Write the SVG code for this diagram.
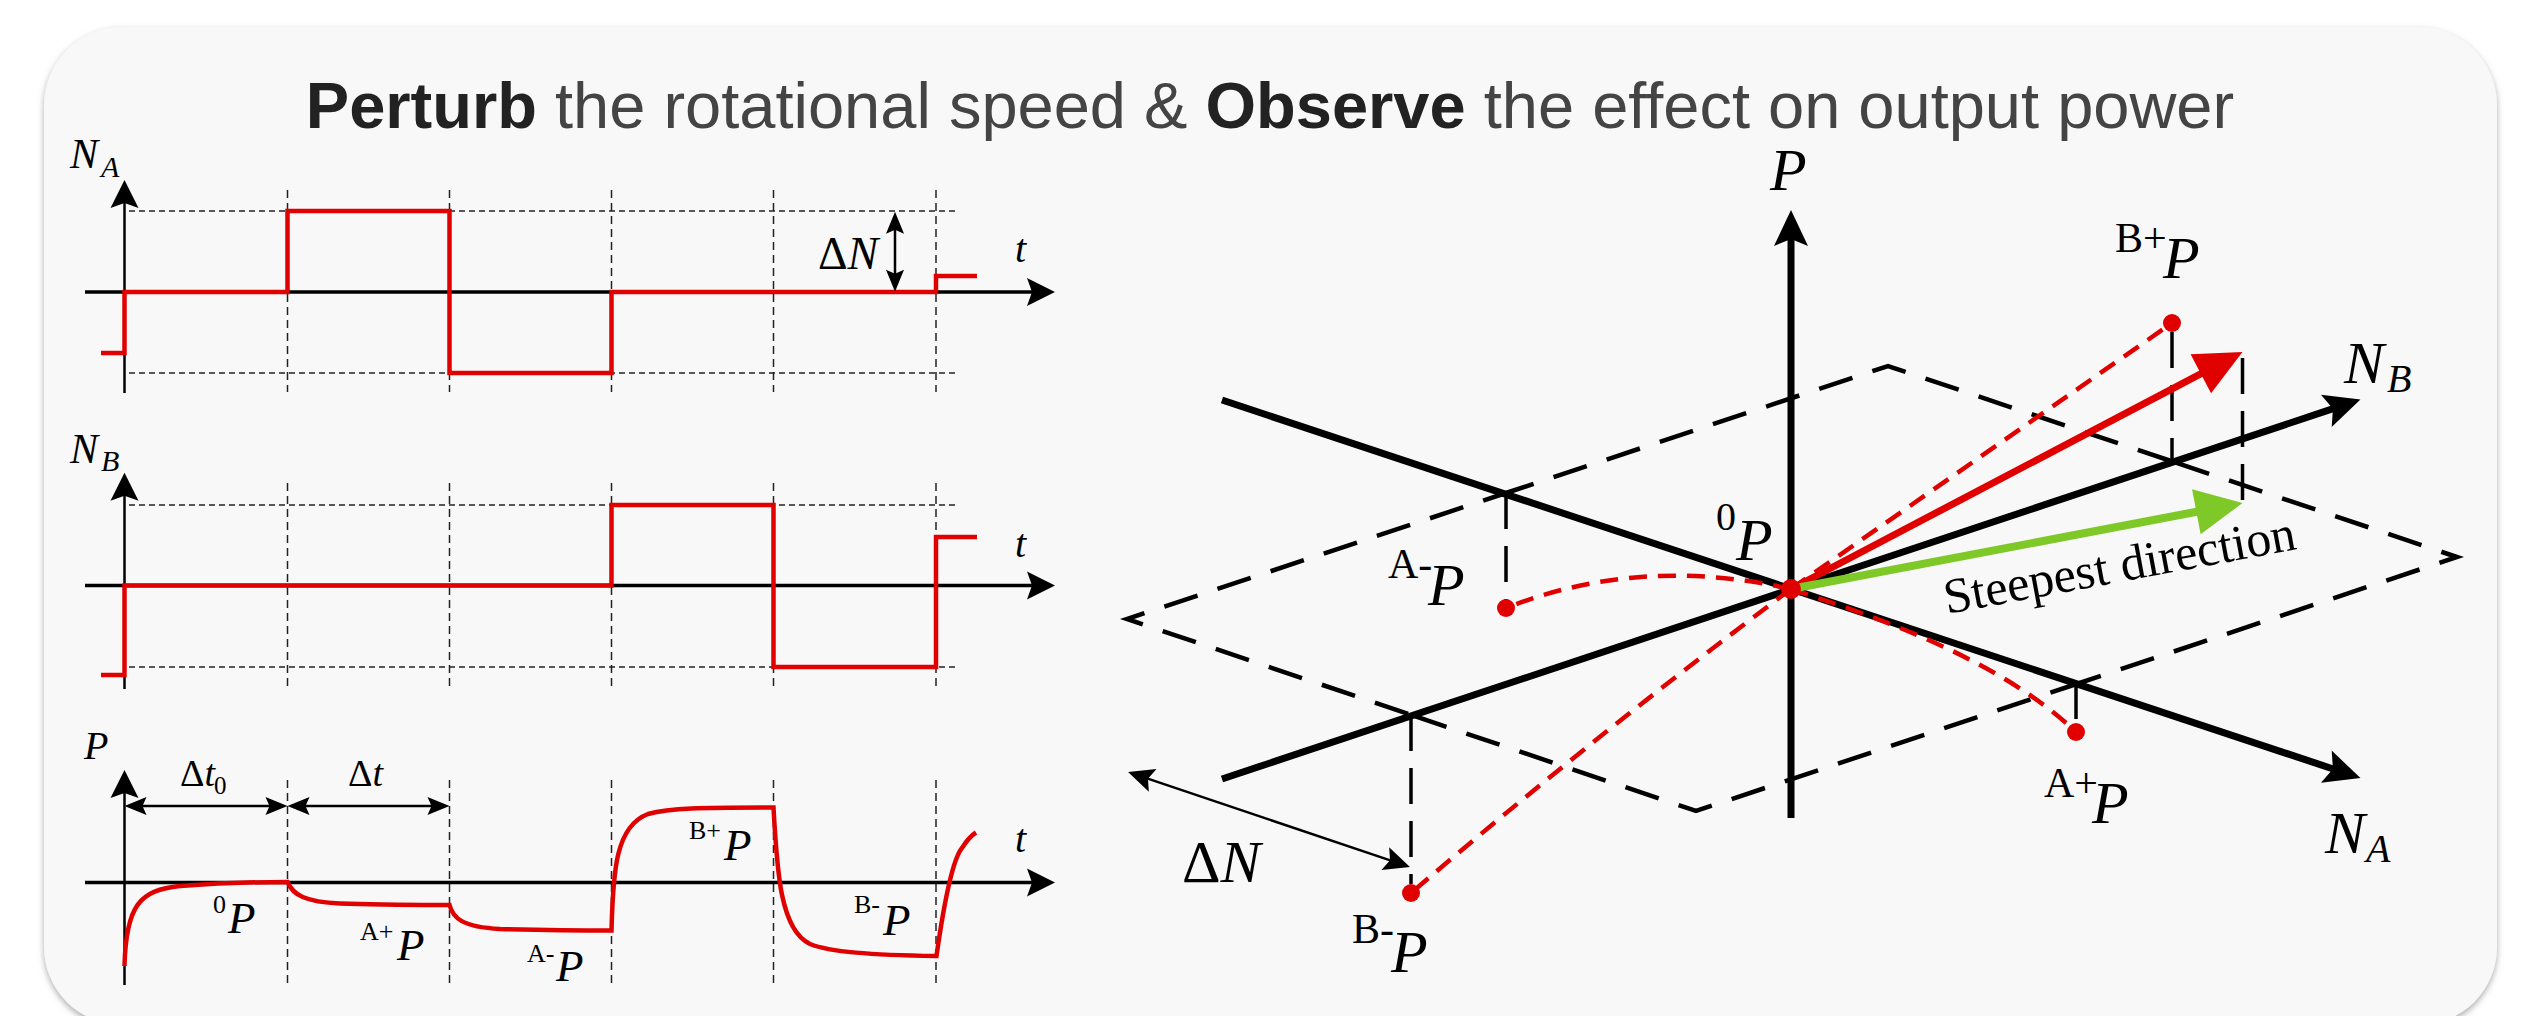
<svg xmlns="http://www.w3.org/2000/svg" width="2526" height="1016" viewBox="0 0 2526 1016">
<defs>
<filter id="sh" x="-3%" y="-3%" width="106%" height="108%"><feDropShadow dx="0" dy="3" stdDeviation="3" flood-color="#777" flood-opacity="0.6"/></filter>
<marker id="ha" markerUnits="userSpaceOnUse" markerWidth="40" markerHeight="40" refX="-22" refY="0" orient="auto" overflow="visible"><path d="M0,0 L-28,-14 L-23,0 L-28,14 Z" fill="#000"/></marker>
<marker id="hs" markerUnits="userSpaceOnUse" markerWidth="30" markerHeight="30" refX="-17" refY="0" orient="auto-start-reverse" overflow="visible"><path d="M0,0 L-22,-9 L-18,0 L-22,9 Z" fill="#000"/></marker>
<marker id="hb" markerUnits="userSpaceOnUse" markerWidth="50" markerHeight="50" refX="-28" refY="0" orient="auto" overflow="visible"><path d="M0,0 L-36,-17 L-29,0 L-36,17 Z" fill="#000"/></marker>
<marker id="hd" markerUnits="userSpaceOnUse" markerWidth="40" markerHeight="40" refX="-20" refY="0" orient="auto-start-reverse" overflow="visible"><path d="M0,0 L-26,-12 L-21,0 L-26,12 Z" fill="#000"/></marker>
<marker id="hr" markerUnits="userSpaceOnUse" markerWidth="60" markerHeight="60" refX="-44" refY="0" orient="auto" overflow="visible"><path d="M0,0 L-47,-22 L-47,22 Z" fill="#e00000"/></marker>
<marker id="hg" markerUnits="userSpaceOnUse" markerWidth="60" markerHeight="60" refX="-44" refY="0" orient="auto" overflow="visible"><path d="M0,0 L-47,-23 L-47,23 Z" fill="#7ec828"/></marker>
</defs>
<style>
.ti{font-family:"Liberation Sans",Arial,sans-serif;font-size:65px}
.tb{font-weight:bold;fill:#222}
.tr{fill:#444}
.s{font-family:"Liberation Serif","Times New Roman",serif;fill:#000}
.i{font-style:italic}
.gv{stroke:#222;stroke-width:1.5;fill:none;stroke-dasharray:8 5}
.gh{stroke:#222;stroke-width:1.5;fill:none;stroke-dasharray:6 4}
.av{stroke:#000;stroke-width:2.5;fill:none}
.ah{stroke:#000;stroke-width:3.5;fill:none}
.sig{stroke:#e00000;stroke-width:4.5;fill:none;stroke-linejoin:miter}
.dbl{stroke:#000;stroke-width:2.5;fill:none}
.dia{stroke:#000;stroke-width:4.5;fill:none;stroke-dasharray:35 21;stroke-linejoin:miter}
.vd{stroke:#000;stroke-width:3.5;fill:none;stroke-dasharray:36 17}
.ax3{stroke:#000;stroke-width:7;fill:none}
.rd{stroke:#e00000;stroke-width:4.5;fill:none;stroke-dasharray:18 11}
.dot{fill:#e00000}
</style>
<rect width="2526" height="1016" fill="#ffffff"/>
<rect id="panel" x="44" y="27" width="2453" height="998" rx="78" fill="#f8f8f8" filter="url(#sh)"/>

<g id="title">
<text class="ti" x="1270" y="128" text-anchor="middle"><tspan class="tb">Perturb</tspan><tspan class="tr"> the rotational speed &amp; </tspan><tspan class="tb">Observe</tspan><tspan class="tr"> the effect on output power</tspan></text>
</g>

<g id="chart-na">
<path class="gv" d="M287.5,190V392M449.5,190V392M611.5,190V392M773.5,190V392M936,190V392"/>
<path class="gh" d="M129,211H956M129,373H956"/>
<path class="av" d="M124.5,393V202" marker-end="url(#ha)"/>
<path class="ah" d="M85,292H1033" marker-end="url(#ha)"/>
<path class="sig" d="M101,353H124.5V292H287.5V211H449.5V373H611.5V292H936V276H977"/>
<path class="dbl" d="M895,228.7V274.7" marker-start="url(#hs)" marker-end="url(#hs)"/>
<text class="s i" x="70" y="168" font-size="42">N</text><text class="s i" x="101" y="177" font-size="30">A</text>
<text class="s i" x="1015" y="262" font-size="40">t</text>
<text class="s" x="818" y="269" font-size="46">Δ<tspan class="i">N</tspan></text>
</g>

<g id="chart-nb">
<path class="gv" d="M287.5,483V687M449.5,483V687M611.5,483V687M773.5,483V687M936,483V687"/>
<path class="gh" d="M129,505H956M129,667H956"/>
<path class="av" d="M124.5,689V494.7" marker-end="url(#ha)"/>
<path class="ah" d="M85,585.5H1033" marker-end="url(#ha)"/>
<path class="sig" d="M101,675H124.5V585.5H611.5V505H773.5V667H936V537H977"/>
<text class="s i" x="70" y="463" font-size="42">N</text><text class="s i" x="101" y="471" font-size="30">B</text>
<text class="s i" x="1015" y="557" font-size="40">t</text>
</g>

<g id="chart-p">
<path class="gv" d="M287.5,780V985M449.5,780V985M611.5,780V985M773.5,780V985M936,780V985"/>
<path class="av" d="M124.5,985V792" marker-end="url(#ha)"/>
<path class="ah" d="M85,882.5H1033" marker-end="url(#ha)"/>
<path class="dbl" d="M141.5,806H270.5" marker-start="url(#hs)" marker-end="url(#hs)"/>
<path class="dbl" d="M304.5,806H432.5" marker-start="url(#hs)" marker-end="url(#hs)"/>
<path class="sig" stroke-width="5" d="M124.5,966 C126,905 140,890 180,886 C220,883 260,882 287.5,882 C293,895 305,902 340,903.5 C380,904.5 420,905 449.5,905 C453,918 462,927 500,929 C540,930 580,930.5 611.5,930.5 C613,870 616,826 648,814 C670,808 700,807.5 773.5,807.5 C777,870 780,930 810,944 C830,952 870,955 936.5,956 C943,910 952,860 962,848 C967,840 972,835 976,832.5"/>
<text class="s i" x="84" y="759" font-size="40">P</text>
<text class="s i" x="1015" y="852" font-size="40">t</text>
<text class="s" x="180" y="786" font-size="38">Δ<tspan class="i">t</tspan></text><text class="s" x="214" y="794" font-size="25">0</text>
<text class="s" x="348" y="786" font-size="38">Δ<tspan class="i">t</tspan></text>
<text class="s" x="213" y="913" font-size="26">0</text><text class="s i" x="228" y="933" font-size="45">P</text>
<text class="s" x="360" y="940" font-size="26">A+</text><text class="s i" x="397" y="960" font-size="45">P</text>
<text class="s" x="527" y="962" font-size="26">A-</text><text class="s i" x="556" y="981" font-size="45">P</text>
<text class="s" x="689" y="839" font-size="26">B+</text><text class="s i" x="724" y="860" font-size="45">P</text>
<text class="s" x="854" y="913" font-size="26">B-</text><text class="s i" x="883" y="935" font-size="45">P</text>
</g>

<g id="plane">
<path class="dia" stroke-dashoffset="52.4" d="M1411.5,715 L1127,619 L1507.5,492.5"/>
<path class="dia" stroke-dashoffset="7.5" d="M1507.5,492.5 L1888,366 L2172.5,461.5"/>
<path class="dia" stroke-dashoffset="52.4" d="M2172.5,461.5 L2457,557 L2076.5,684"/>
<path class="dia" stroke-dashoffset="7.5" d="M2076.5,684 L1696,811 L1411.5,715"/>
</g>

<g id="projections">
<path class="vd" d="M1506,493V600"/>
<path class="vd" d="M1411,715V884"/>
<path class="vd" d="M2172,332V463"/>
<path class="vd" d="M2242.5,358V505"/>
<path class="vd" d="M2076,683V722"/>
</g>

<g id="axes3d">
<path class="ax3" stroke-width="4.5" d="M1791,818V238" marker-end="url(#hb)"/>
<path class="ax3" d="M1222,400L2333.9,769.2" marker-end="url(#hb)"/>
<path class="ax3" d="M1222,779L2333.9,408.4" marker-end="url(#hb)"/>
<path class="dbl" stroke-width="4" d="M1147,778.4L1391,860.6" marker-start="url(#hd)" marker-end="url(#hd)"/>
</g>

<g id="connectors">
<path class="rd" d="M1791,589L2172,323"/>
<path class="rd" stroke-width="5.5" stroke-dasharray="20 10" d="M1791,589Q1640,555 1506,608"/>
<path class="rd" d="M1791,589C1880,618 2000,660 2076,732"/>
<path class="rd" d="M1791,589Q1596,735 1411,893"/>
<path stroke="#e00000" stroke-width="7" fill="none" d="M1791,589L2203.5,372.4" marker-end="url(#hr)"/>
<path stroke="#7ec828" stroke-width="8" fill="none" d="M1791,589L2199.3,511.2" marker-end="url(#hg)"/>
</g>

<g id="points">
<circle class="dot" cx="1791" cy="589" r="10"/>
<circle class="dot" cx="2172" cy="323" r="9"/>
<circle class="dot" cx="1506" cy="608" r="9"/>
<circle class="dot" cx="2076" cy="732" r="9"/>
<circle class="dot" cx="1411" cy="893" r="9"/>
</g>

<g id="labels3d">
<text class="s i" x="1770" y="190" font-size="60">P</text>
<text class="s" x="1716" y="530" font-size="40">0</text><text class="s i" x="1736" y="560" font-size="60">P</text>
<text class="s" x="1388" y="578" font-size="42">A-</text><text class="s i" x="1428" y="605" font-size="60">P</text>
<text class="s" x="2115" y="252" font-size="42">B+</text><text class="s i" x="2163" y="278" font-size="60">P</text>
<text class="s" x="1352" y="943" font-size="42">B-</text><text class="s i" x="1391" y="972" font-size="60">P</text>
<text class="s" x="2044" y="797" font-size="42">A+</text><text class="s i" x="2092" y="823" font-size="60">P</text>
<text class="s i" x="2344" y="383" font-size="60">N</text><text class="s i" x="2387" y="392" font-size="40">B</text>
<text class="s i" x="2325" y="853" font-size="60">N</text><text class="s i" x="2366" y="862" font-size="40">A</text>
<text class="s" x="1182" y="882" font-size="60">Δ<tspan class="i">N</tspan></text>
<text class="s" font-size="50" transform="translate(1947,614) rotate(-10.5)">Steepest direction</text>
</g>
</svg>
